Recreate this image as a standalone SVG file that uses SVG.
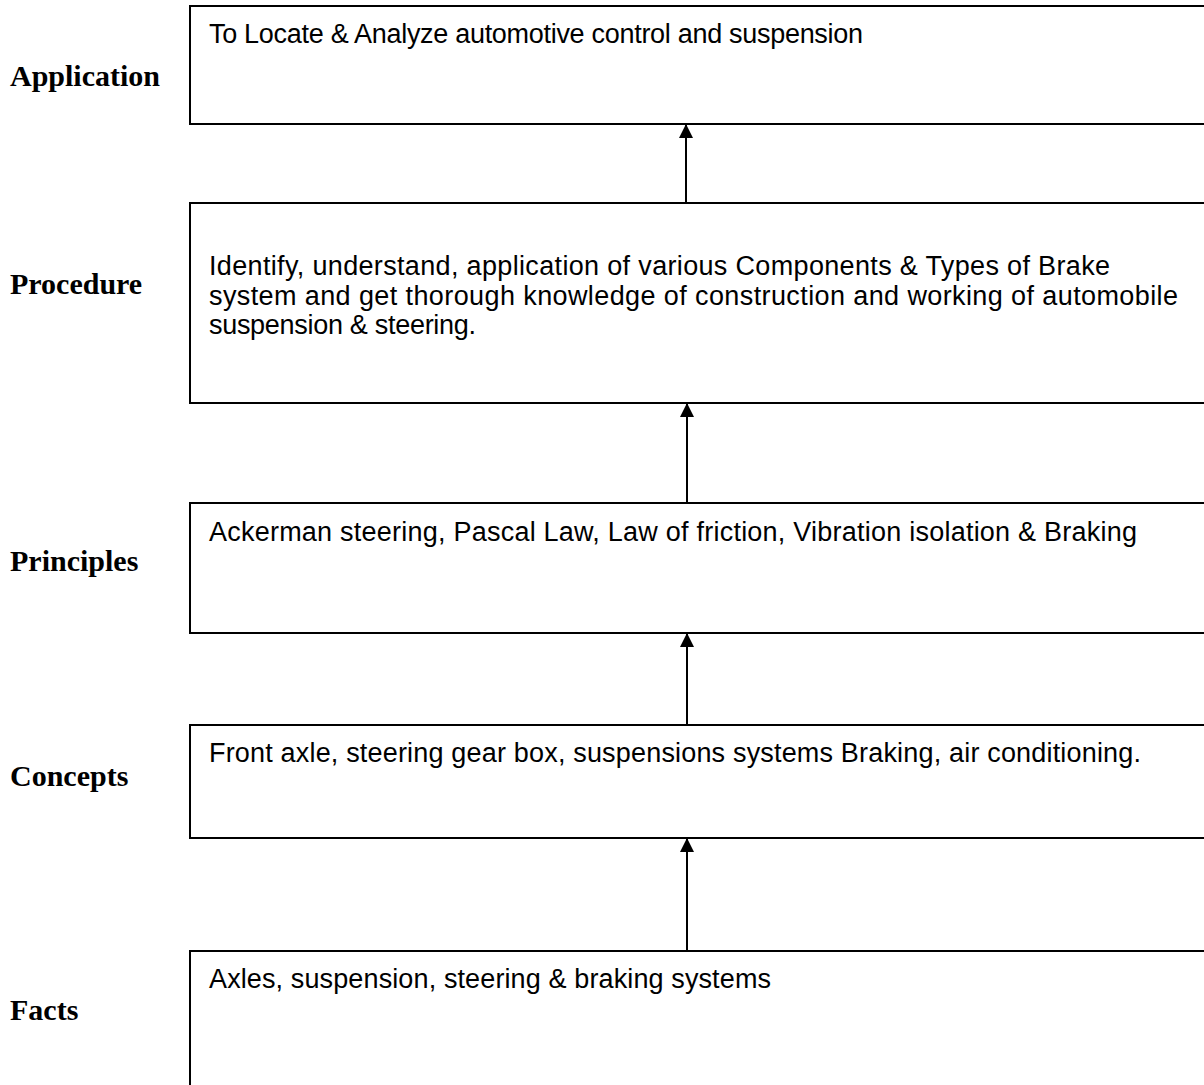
<svg xmlns="http://www.w3.org/2000/svg" width="1204" height="1085" viewBox="0 0 1204 1085">
  <style>
    .box { fill: #ffffff; stroke: #000000; stroke-width: 2; }
    .label { font-family: "Liberation Serif", "Times New Roman", serif; font-weight: bold; font-size: 30px; fill: #000000; }
    .body { font-family: "Liberation Sans", Arial, sans-serif; font-size: 27px; fill: #000000; }
    .link { stroke: #000000; stroke-width: 2; fill: none; }
  </style>
  <defs>
    <marker id="head" viewBox="0 0 14 14" refX="14" refY="7" markerWidth="14" markerHeight="14" markerUnits="userSpaceOnUse" orient="auto">
      <path d="M0,0 L14,7 L0,14 Z" fill="#000000"/>
    </marker>
  </defs>
  <rect width="1204" height="1085" fill="#ffffff"/>

  <!-- level labels -->
  <text class="label" x="10" y="86">Application</text>
  <text class="label" x="10" y="294">Procedure</text>
  <text class="label" x="10" y="571">Principles</text>
  <text class="label" x="10" y="786">Concepts</text>
  <text class="label" x="10" y="1020">Facts</text>

  <g id="application">
    <rect class="box" x="190" y="6" width="1100" height="118"/>
    <text class="body" x="209" y="43" textLength="654" lengthAdjust="spacing">To Locate &amp; Analyze automotive control and suspension</text>
  </g>

  <g id="procedure">
    <rect class="box" x="190" y="203" width="1100" height="200"/>
    <text class="body" x="209" y="275" textLength="901" lengthAdjust="spacing">Identify, understand, application of various Components &amp; Types of Brake</text>
    <text class="body" x="209" y="305" textLength="969" lengthAdjust="spacing">system and get thorough knowledge of construction and working of automobile</text>
    <text class="body" x="209" y="334" textLength="267" lengthAdjust="spacing">suspension &amp; steering.</text>
  </g>

  <g id="principles">
    <rect class="box" x="190" y="503" width="1100" height="130"/>
    <text class="body" x="209" y="541" textLength="928" lengthAdjust="spacing">Ackerman steering, Pascal Law, Law of friction, Vibration isolation &amp; Braking</text>
  </g>

  <g id="concepts">
    <rect class="box" x="190" y="725" width="1100" height="113"/>
    <text class="body" x="209" y="762" textLength="932" lengthAdjust="spacing">Front axle, steering gear box, suspensions systems Braking, air conditioning.</text>
  </g>

  <g id="facts">
    <rect class="box" x="190" y="951" width="1100" height="200"/>
    <text class="body" x="209" y="988" textLength="562" lengthAdjust="spacing">Axles, suspension, steering &amp; braking systems</text>
  </g>

  <g id="connectors">
    <line class="link" x1="686" y1="203" x2="686" y2="124" marker-end="url(#head)"/>
    <line class="link" x1="687" y1="503" x2="687" y2="403" marker-end="url(#head)"/>
    <line class="link" x1="687" y1="725" x2="687" y2="633" marker-end="url(#head)"/>
    <line class="link" x1="687" y1="951" x2="687" y2="838" marker-end="url(#head)"/>
  </g>
</svg>
